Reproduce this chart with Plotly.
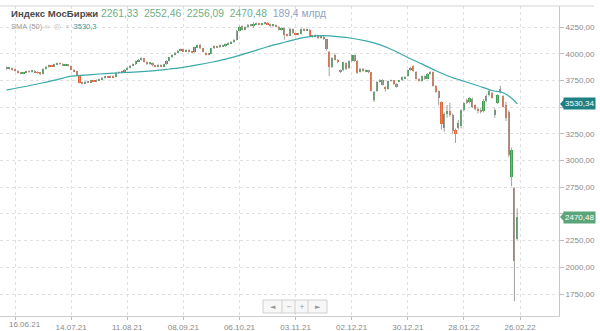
import plotly.graph_objects as go

# ---------------- data ----------------
bar_index = list(range(-3, 180))   # trading-day index, 0 = 16.06.21

open_ = [3870, 3860, 3866, 3850, 3840, 3824, 3815, 3822, 3835, 3830, 3840, 3828, 3820, 3812, 3860, 3878, 3890, 3884, 3900, 3910,
         3904, 3894, 3898, 3888, 3850, 3836, 3796, 3730, 3722, 3740, 3734, 3750, 3744, 3752, 3760, 3775, 3786, 3780, 3790, 3782,
         3820, 3828, 3822, 3850, 3870, 3888, 3900, 3930, 3945, 3958, 3926, 3905, 3915, 3890, 3880, 3895, 3885, 3900, 3935, 3965,
         3990, 4010, 4030, 4040, 4025, 4035, 4020, 4015, 4060, 4085, 4050, 4010, 3992, 4000, 4050, 4070, 4060, 4080, 4070, 4090,
         4100, 4110, 4130, 4215, 4260, 4225, 4250, 4270, 4262, 4275, 4285, 4270, 4280, 4290, 4275, 4260, 4270, 4255, 4225, 4240,
         4180, 4170, 4235, 4190, 4180, 4185, 4230, 4220, 4226, 4170, 4160, 4175, 4150, 4160, 4135, 4020, 3880, 3990, 3945, 3840,
         3845, 3915, 3865, 3930, 3985, 3935, 3830, 3860, 3835, 3845, 3826, 3565, 3650, 3740, 3755, 3690, 3670, 3745, 3750, 3720,
         3740, 3750, 3770, 3790, 3845, 3885, 3832, 3765, 3745, 3790, 3765, 3810, 3830, 3700, 3650, 3545, 3300, 3440, 3460, 3430,
         3290, 3300, 3320, 3470, 3570, 3545, 3580, 3520, 3480, 3470, 3460, 3560, 3610, 3635, 3430, 3540, 3670, 3600, 3520, 3455,
         2850, 2745, 2261.33]
close = [3860, 3866, 3850, 3840, 3824, 3815, 3822, 3835, 3830, 3840, 3828, 3820, 3812, 3860, 3878, 3890, 3884, 3900, 3910, 3904,
         3894, 3898, 3888, 3850, 3836, 3796, 3730, 3722, 3740, 3734, 3750, 3744, 3752, 3760, 3775, 3786, 3780, 3790, 3782, 3820,
         3828, 3822, 3850, 3870, 3888, 3900, 3930, 3945, 3958, 3926, 3905, 3915, 3890, 3880, 3895, 3885, 3900, 3935, 3965, 3990,
         4010, 4030, 4040, 4025, 4035, 4020, 4015, 4060, 4078, 4050, 4020, 3992, 4000, 4050, 4070, 4060, 4080, 4070, 4090, 4100,
         4110, 4130, 4215, 4255, 4225, 4250, 4270, 4262, 4275, 4285, 4270, 4280, 4290, 4275, 4260, 4270, 4255, 4225, 4240, 4180,
         4170, 4235, 4190, 4180, 4185, 4230, 4220, 4226, 4170, 4160, 4175, 4150, 4160, 4140, 4040, 3880, 3960, 3945, 3920, 3836,
         3920, 3855, 3930, 3985, 3930, 3820, 3860, 3840, 3845, 3826, 3655, 3640, 3740, 3755, 3710, 3666, 3745, 3750, 3715, 3690,
         3745, 3780, 3785, 3845, 3870, 3840, 3765, 3745, 3790, 3762, 3810, 3830, 3700, 3645, 3590, 3340, 3440, 3460, 3430, 3280,
         3250, 3350, 3470, 3535, 3540, 3585, 3500, 3480, 3470, 3455, 3560, 3600, 3655, 3590, 3475, 3610, 3640, 3505, 3400, 3050,
         3100, 2058, 2470.48]
high = [3880, 3874, 3870, 3858, 3846, 3830, 3830, 3842, 3845, 3848, 3846, 3834, 3826, 3866, 3885, 3898, 3896, 3908, 3918, 3916,
        3910, 3906, 3904, 3892, 3856, 3840, 3800, 3738, 3746, 3748, 3756, 3756, 3760, 3766, 3782, 3792, 3792, 3796, 3796, 3826,
        3836, 3834, 3856, 3876, 3894, 3908, 3936, 3952, 3966, 3962, 3930, 3922, 3918, 3896, 3902, 3900, 3906, 3940, 3970, 3996,
        4016, 4036, 4048, 4046, 4042, 4040, 4026, 4066, 4086, 4092, 4054, 4014, 4008, 4056, 4078, 4076, 4086, 4086, 4096, 4108,
        4118, 4136, 4222, 4262, 4266, 4258, 4278, 4280, 4296, 4292, 4290, 4288, 4298, 4296, 4280, 4276, 4274, 4258, 4248, 4244,
        4188, 4242, 4238, 4196, 4192, 4236, 4238, 4234, 4230, 4176, 4182, 4180, 4168, 4166, 4140, 4026, 3968, 4005, 3952, 3852,
        3926, 3920, 3936, 3992, 3990, 3940, 3868, 3866, 3852, 3850, 3830, 3650, 3746, 3762, 3760, 3696, 3750, 3758, 3754, 3724,
        3752, 3786, 3792, 3850, 3878, 3892, 3836, 3770, 3796, 3796, 3816, 3836, 3834, 3706, 3656, 3556, 3450, 3520, 3540, 3440,
        3300, 3380, 3480, 3545, 3580, 3595, 3590, 3526, 3500, 3490, 3575, 3620, 3670, 3645, 3490, 3620, 3700, 3610, 3550, 3470,
        3120, 2750, 2552.46]
low = [3850, 3852, 3842, 3832, 3815, 3806, 3808, 3816, 3822, 3824, 3820, 3812, 3800, 3806, 3852, 3870, 3876, 3878, 3892, 3896,
       3886, 3888, 3880, 3844, 3828, 3790, 3722, 3712, 3716, 3726, 3728, 3736, 3738, 3746, 3754, 3768, 3772, 3774, 3776, 3778,
       3814, 3814, 3818, 3844, 3864, 3882, 3894, 3924, 3936, 3918, 3896, 3898, 3882, 3872, 3874, 3878, 3880, 3896, 3930, 3960,
       3984, 4004, 4024, 4018, 4018, 4012, 4006, 4010, 4054, 4044, 4012, 3984, 3986, 3996, 4044, 4052, 4054, 4064, 4064, 4084,
       4094, 4104, 4126, 4210, 4218, 4220, 4244, 4256, 4240, 4268, 4264, 4264, 4274, 4268, 4254, 4252, 4248, 4218, 4218, 4130,
       4162, 4166, 4184, 4172, 4174, 4180, 4212, 4214, 4164, 4150, 4154, 4140, 4142, 4130, 4030, 3790, 3866, 3938, 3910, 3820,
       3838, 3846, 3858, 3924, 3922, 3812, 3824, 3832, 3826, 3818, 3648, 3548, 3644, 3732, 3702, 3645, 3664, 3738, 3708, 3682,
       3734, 3744, 3764, 3784, 3840, 3832, 3758, 3738, 3740, 3756, 3760, 3804, 3692, 3636, 3520, 3290, 3270, 3400, 3410, 3250,
       3165, 3290, 3300, 3460, 3530, 3535, 3490, 3470, 3440, 3440, 3450, 3545, 3600, 3580, 3400, 3530, 3630, 3495, 3370, 3030,
       2760, 1681, 2256.09]

sma_index = [-3, 5, 10, 15, 20, 25, 30, 35, 40, 45, 50, 55, 60, 65, 70, 75, 80, 85, 90, 95, 100, 105, 110, 115, 120, 125,
             130, 135, 140, 145, 150, 155, 160, 165, 170, 174, 176, 178, 179]
sma_value = [3660, 3700, 3728, 3757, 3790, 3800, 3810, 3818, 3826, 3832, 3842, 3857, 3873, 3895, 3920, 3950, 3985, 4025,
             4065, 4100, 4135, 4160, 4169, 4160, 4145, 4120, 4085, 4030, 3965, 3905, 3840, 3785, 3742, 3700, 3656, 3635,
             3605, 3560, 3530.3]

x_tick_index = [0, 20, 40, 60, 80, 100, 120, 140, 160, 180]
x_tick_labels = ["16.06.21", "14.07.21", "11.08.21", "08.09.21", "06.10.21", "03.11.21",
                 "02.12.21", "30.12.21", "28.01.22", "26.02.22"]
y_tick_values = [1750, 2000, 2250, 2500, 2750, 3000, 3250, 3500, 3750, 4000, 4250]
y_tick_labels = ["1750,00", "2000,00", "2250,00", "", "2750,00", "3000,00", "3250,00", "", "3750,00", "4000,00", "4250,00"]

sma_last = 3530.34
price_last = 2470.48
header_values = "2261,33  2552,46  2256,09  2470,48"
header_volume = "189,4 млрд"
sma_legend_value = "3530,3"

# ---------------- styling ----------------
GREEN = "#3f9d52"
RED = "#e2683a"
WICK = "#a0a0a0"
TEAL = "#3aaaa9"
FONT = "Liberation Sans, Arial, sans-serif"

wick_x, wick_y = [], []
for i, h, l in zip(bar_index, high, low):
    wick_x += [i, i, None]
    wick_y += [l, h, None]

body_base = [min(o, c) for o, c in zip(open_, close)]
body_h = [max(abs(c - o), 7) for o, c in zip(open_, close)]
body_col = [GREEN if c >= o else RED for o, c in zip(open_, close)]

fig = go.Figure()
fig.add_trace(go.Scatter(x=wick_x, y=wick_y, mode="lines", line=dict(color=WICK, width=1),
                         hoverinfo="skip"))
fig.add_trace(go.Bar(x=bar_index, y=body_h, base=body_base, width=0.78,
                     marker=dict(color=body_col, line=dict(width=0))))
fig.add_trace(go.Scatter(x=sma_index, y=sma_value, mode="lines",
                         line=dict(color=TEAL, width=1.2, shape="spline", smoothing=0.8)))

W_PLOT = 559.0
H_PLOT = 310.0


def px(xp):
    return xp / W_PLOT


def py(yp):
    return (316 - yp) / H_PLOT


shapes = []
annotations = []

# top border line
shapes.append(dict(type="line", xref="paper", yref="paper", x0=0, x1=px(594), y0=1, y1=1,
                   line=dict(color="#d4d4d4", width=1)))

# badges on the price axis
for val, txt, col in [(sma_last, "3530,34", "#1f8183"), (price_last, "2470,48", "#5aa57a")]:
    annotations.append(dict(x=1, xref="paper", y=val, yref="y", xanchor="left", yanchor="middle",
                            xshift=4, text=txt, showarrow=False,
                            font=dict(size=8, color="white", family=FONT),
                            bgcolor=col, borderpad=1))
    shapes.append(dict(type="path", xref="paper", yref="y",
                       path=f"M {px(560)},{val} L {px(565)},{val + 52} L {px(565)},{val - 52} Z",
                       fillcolor=col, line=dict(width=0)))

# first date label (kept inside the page, as in the reference)
annotations.append(dict(x=px(7), xref="paper", y=py(324), yref="paper", xanchor="left", yanchor="middle",
                        showarrow=False, text=x_tick_labels[0],
                        font=dict(size=8, color="#8a8a8a", family=FONT)))
x_tick_text_axis = [""] + x_tick_labels[1:]

# header text
annotations.append(dict(x=px(9), xref="paper", y=py(14), yref="paper", xanchor="left", yanchor="middle",
                        showarrow=False, align="left",
                        text=("<b><span style='font-size:9.6px'>Индекс МосБиржи</span></b> "
                              f"<span style='color:#6fae88'>{header_values}</span>  "
                              f"<span style='color:#8ea4bf'>{header_volume}</span>"),
                        font=dict(size=10.3, color="#4a4a4a", family=FONT)))
annotations.append(dict(x=px(9), xref="paper", y=py(26), yref="paper", xanchor="left", yanchor="middle",
                        showarrow=False, align="left",
                        text=("SMA (50) <span style='color:#c4c4c4'>∞  ◎  ×</span>  "
                              f"<span style='color:#2a9a9c'>{sma_legend_value}</span>"),
                        font=dict(size=7.5, color="#9a9a9a", family=FONT)))

# navigation buttons
btn_edges = [263, 282, 295, 308, 327]
btn_glyph = ["◄", "−", "+", "►"]
shapes.append(dict(type="rect", xref="paper", yref="paper", x0=px(263), x1=px(327), y0=py(313), y1=py(300),
                   fillcolor="#f7f7f7", line=dict(color="#d0d0d0", width=1)))
for k in range(4):
    if k > 0:
        shapes.append(dict(type="line", xref="paper", yref="paper", x0=px(btn_edges[k]), x1=px(btn_edges[k]),
                           y0=py(313), y1=py(300), line=dict(color="#d0d0d0", width=1)))
    annotations.append(dict(x=px((btn_edges[k] + btn_edges[k + 1]) / 2), xref="paper", y=py(306.5), yref="paper",
                            xanchor="center", yanchor="middle", showarrow=False, text=btn_glyph[k],
                            font=dict(size=7, color="#9a9a9a", family="DejaVu Sans")))

fig.update_layout(
    width=600, height=331,
    margin=dict(l=0, r=41, t=6, b=15, autoexpand=False),
    paper_bgcolor="white", plot_bgcolor="white",
    showlegend=False, bargap=0,
    font=dict(family=FONT, size=8, color="#8a8a8a"),
    shapes=shapes, annotations=annotations,
    xaxis=dict(range=[-5.35, 193.9], tickmode="array", tickvals=x_tick_index, ticktext=x_tick_text_axis,
               showgrid=True, gridcolor="#e0e0e0", griddash="dot", gridwidth=1,
               showline=True, linecolor="#cccccc", linewidth=1, zeroline=False,
               ticks="outside", ticklen=3, tickcolor="#bdbdbd",
               tickfont=dict(size=8, color="#8a8a8a", family=FONT), automargin=False, fixedrange=True),
    yaxis=dict(range=[1544, 4447], side="right", tickmode="array", tickvals=y_tick_values, ticktext=y_tick_labels,
               showgrid=True, gridcolor="#e0e0e0", griddash="dot", gridwidth=1,
               showline=True, linecolor="#c8c8c8", linewidth=1, zeroline=False,
               ticks="outside", ticklen=4, tickcolor="#bdbdbd",
               tickfont=dict(size=8, color="#8a8a8a", family=FONT), automargin=False, fixedrange=True),
)

fig.write_html("out.html", config={"displayModeBar": False})
